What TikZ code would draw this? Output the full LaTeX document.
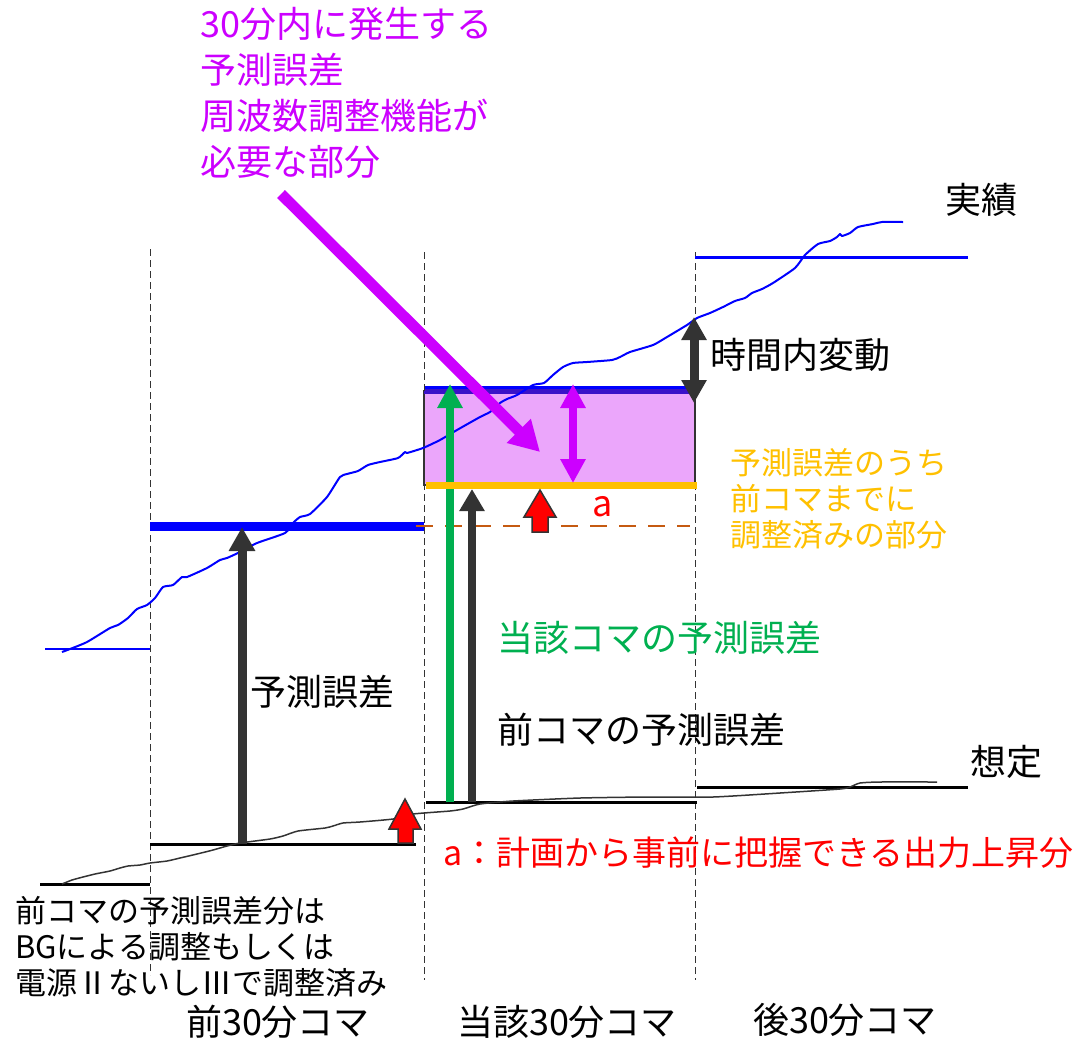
\documentclass[tikz,border=0pt]{standalone}
\usepackage{fontspec}
\setmainfont{Noto Sans CJK JP}
\usetikzlibrary{arrows.meta}
\definecolor{mag}{HTML}{CC00FF}
\definecolor{pinkfill}{HTML}{EBA6FB}
\definecolor{orng}{HTML}{FFC000}
\definecolor{grn}{HTML}{00B050}
\definecolor{drk}{HTML}{333333}
\definecolor{brwn}{HTML}{C55A11}
\definecolor{blu}{HTML}{0000FF}
\definecolor{deeppurple}{HTML}{3A12C8}
\tikzset{
  big/.style={inner sep=0pt, font=\fontsize{36}{46}\selectfont},
  small/.style={inner sep=0pt, font=\fontsize{31}{36}\selectfont, align=left},
  divider/.style={draw=drk, line width=1pt, dash pattern=on 7pt off 4pt},
  stepline/.style={draw=black, line width=3pt},
  bluestep/.style={draw=blu, line width=2.5pt},
  uparrow/.style={line width=9pt, -{Triangle[length=24pt,width=25pt]}},
  dblarrow/.style={line width=8pt, {Triangle[length=24pt,width=24pt]}-{Triangle[length=24pt,width=24pt]}},
  redblock/.style={fill=red, draw=drk, line width=1.5pt, line join=miter},
}
\begin{document}
\begin{tikzpicture}[x=1pt,y=-1pt]
\useasboundingbox (0,0) rectangle (1091,1042);
% coordinates
\coordinate (d1t) at (150,249); \coordinate (d1b) at (150,975);
\coordinate (d2t) at (424,252); \coordinate (d2b) at (424,980);
\coordinate (d3t) at (695,252); \coordinate (d3b) at (695,980);
% pink rectangle
\path[fill=pinkfill, draw=drk, line width=1.5pt] (424,391) rectangle (695,485);
\coordinate (rtl) at (424,387); \coordinate (rtr) at (695,387);
\coordinate (rml) at (424,391.5); \coordinate (rmr) at (695,391.5);
\draw[blu, line width=3pt] (rtl) -- (rtr);
\draw[deeppurple, line width=4.5pt] (rml) -- (rmr);
% dashed dividers
\draw[divider] (d1t) -- (d1b);
\draw[divider] (d2t) -- (d2b);
\draw[divider] (d3t) -- (d3b);
% blue forecast steps
\coordinate (b0l) at (45,649); \coordinate (b0r) at (150,649);
\coordinate (b1l) at (150,526); \coordinate (b1r) at (424,526);
\coordinate (b3l) at (695,257); \coordinate (b3r) at (968,257);
\draw[bluestep] (b0l) -- (b0r);
\draw[blu, line width=9pt] (b1l) -- (b1r);
\draw[blu, line width=3pt] (b3l) -- (b3r);
% brown dashed line
\coordinate (brl) at (416,526); \coordinate (brr) at (690,526);
\draw[brwn, line width=2.5pt, dash pattern=on 17pt off 12pt] (brl) -- (brr);
% black assumed steps
\coordinate (k0l) at (40,884); \coordinate (k0r) at (150,884);
\coordinate (k1l) at (150,844); \coordinate (k1r) at (416,844);
\coordinate (k2l) at (426,802); \coordinate (k2r) at (697,802);
\coordinate (k3l) at (697,787); \coordinate (k3r) at (968,787);
\draw[stepline] (k0l) -- (k0r);
\draw[stepline] (k1l) -- (k1r);
\draw[stepline] (k2l) -- (k2r);
\draw[stepline] (k3l) -- (k3r);
% actual (blue) curve
\draw[blu, line width=2pt, line join=round] plot[smooth, tension=0.35] coordinates {
(62,652) (70,649) (87,642) (110,628) (118,625) (128,618) (137,609) (147,605) (155,598) (163,587) (173,585) (182,577) (187,577) (207,568) (220,560) (227,558) (240,552) (257,543) (285,533) (293,523) (300,517) (310,514) (327,497) (340,477) (347,474) (358,471) (368,465) (380,462) (398,458) (405,452) (407,453) (423,448) (440,440) (457,430) (480,417) (490,412) (500,403) (507,399) (517,395) (533,385) (544,383) (553,375) (563,367) (573,363) (587,362) (612,360) (620,357) (630,352) (653,345) (667,337) (687,325) (697,318) (710,313) (723,307) (735,301) (745,298) (752,293) (762,289) (773,283) (795,268) (805,255) (818,244) (830,241) (837,237) (840,234) (842,236) (850,233) (858,227) (873,224) (882,222) (903,222)};
% assumed (black) curve
\draw[drk, line width=1.5pt, line join=round] plot[smooth, tension=0.35] coordinates {
(62,884) (72,880) (83,877) (95,874) (110,871) (120,868) (128,866) (140,865) (150,863) (167,861) (180,858) (197,854) (213,850) (227,846) (240,843) (270,839) (283,836) (298,831) (325,828) (333,826) (343,823) (360,822) (393,819) (413,814) (450,811) (463,809) (480,804) (513,801) (580,798) (647,797) (713,797) (780,793) (840,789) (850,787) (860,783) (880,782) (937,782)};
% arrows
\coordinate (e1b) at (242,844); \coordinate (e1t) at (242,527);
\draw[drk, uparrow] (e1b) -- (e1t);
\coordinate (gb) at (450,802); \coordinate (gt) at (450,384);
\draw[grn, line width=8pt, -{Triangle[length=24pt,width=24pt]}] (gb) -- (gt);
\coordinate (pb) at (472,802); \coordinate (pt) at (472,489);
\draw[drk, line width=8.5pt, -{Triangle[length=22pt,width=24pt]}] (pb) -- (pt);
% orange line
\coordinate (ol) at (426,485); \coordinate (or) at (697,485);
\draw[orng, line width=7pt] (ol) -- (or);
% magenta double arrow
\coordinate (m1) at (573,384); \coordinate (m2) at (573,483);
\draw[mag, dblarrow] (m1) -- (m2);
% time variation double arrow
\coordinate (t1) at (694,317); \coordinate (t2) at (694,403);
\draw[drk, line width=9pt, {Triangle[length=23pt,width=24pt]}-{Triangle[length=23pt,width=24pt]}] (t1) -- (t2);
% magenta diagonal arrow
\coordinate (ds) at (281,194); \coordinate (de) at (540,452);
\draw[mag, line width=11pt, -{Triangle[length=30pt,width=32pt]}] (ds) -- (de);
% red block arrows
\path[redblock] (532,532) -- (532,517) -- (524,517) -- (540,490) -- (556,517) -- (548,517) -- (548,532) -- cycle;
\path[redblock] (398,843) -- (398,829) -- (389,829) -- (405,799) -- (421,829) -- (413,829) -- (413,843) -- cycle;
% texts
\node[big, text=mag, anchor=west, align=left] (ttop) at (200,93) {30分内に発生する\\予測誤差\\周波数調整機能が\\必要な部分};
\node[big, anchor=center] (tjis) at (981,200) {実績};
\node[big, anchor=west] (tvar) at (710,355) {時間内変動};
\node[small, text=orng, anchor=west] (torg) at (730,499) {予測誤差のうち\\前コマまでに\\調整済みの部分};
\node[big, text=red, anchor=center] (ta) at (603,507) {a};
\node[big, text=grn, anchor=west] (tcur) at (497,638) {当該コマの予測誤差};
\node[big, anchor=west] (terr) at (250,692) {予測誤差};
\node[big, anchor=west] (tprev) at (497,730) {前コマの予測誤差};
\node[big, anchor=center] (tsotei) at (1006,762) {想定};
\node[inner sep=0pt, font=\fontsize{34}{40}\selectfont, text=red, anchor=west] (tadef) at (443,853) {a：計画から事前に把握できる出力上昇分};
\node[small, anchor=west] (tbl) at (15,947) {前コマの予測誤差分は\\BGによる調整もしくは\\電源ⅡないしⅢで調整済み};
\node[big, anchor=center] (c1) at (278,1022) {前30分コマ};
\node[big, anchor=center] (c2) at (567,1022) {当該30分コマ};
\node[big, anchor=center] (c3) at (845,1020) {後30分コマ};
\end{tikzpicture}
\end{document}
